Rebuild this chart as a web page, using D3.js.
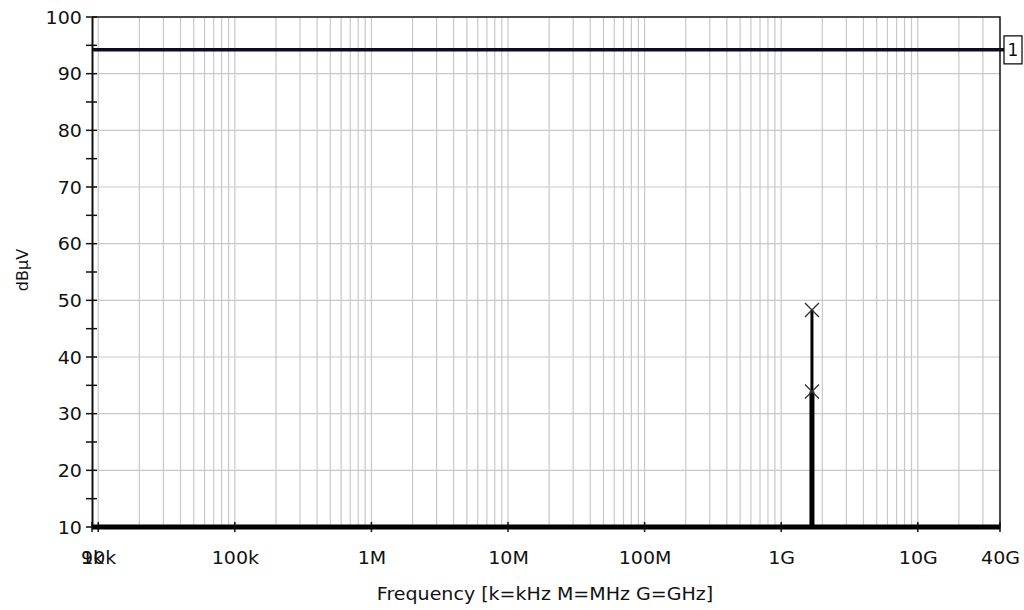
<!DOCTYPE html>
<html>
<head>
<meta charset="utf-8">
<script src="https://cdn.jsdelivr.net/npm/d3@7"></script>
<style>
  html, body { margin: 0; padding: 0; background: #fff; }
  svg { display: block; }
  text { font-family: "DejaVu Sans", sans-serif; fill: #111; }
</style>
</head>
<body>
<div id="chart"></div>
<script>
// ---- data ----
const xTickValues = [9e3, 1e4, 1e5, 1e6, 1e7, 1e8, 1e9, 1e10, 4e10];
const xTickLabels = ['9k', '10k', '100k', '1M', '10M', '100M', '1G', '10G', '40G'];
const yTickValues = [10, 20, 30, 40, 50, 60, 70, 80, 90, 100];
const yMinorTicks = [15, 25, 35, 45, 55, 65, 75, 85, 95];

// limit line "1"
const limitLevel = 94.2;
const limitLabel = '1';

// emission traces (peak and average), flat at floor except for one spike
const spikeFreq = 1.68e9;
const peakTrace = [[9e3, 10], [spikeFreq, 10], [spikeFreq, 48.3], [spikeFreq, 10], [4e10, 10]];
const avgTrace  = [[9e3, 10], [spikeFreq, 10], [spikeFreq, 33.9], [spikeFreq, 10], [4e10, 10]];
const markers = [[spikeFreq, 48.3], [spikeFreq, 33.9]];

// ---- layout ----
const width = 1024, height = 610;
const plot = { left: 92, right: 1000, top: 17, bottom: 527 };
const stretch = 'scale(1.12,1)'; // reference font is wider than DejaVu

const svg = d3.select('#chart').append('svg')
  .attr('width', width)
  .attr('height', height);

const x = d3.scaleLog().domain([9e3, 4e10]).range([plot.left, plot.right]);
const y = d3.scaleLinear().domain([10, 100]).range([plot.bottom, plot.top]);

// vertical grid: 1..9 of every decade
const gridX = x.ticks().filter(v => v > 9e3 && v < 4e10);
svg.append('g')
  .selectAll('line')
  .data(gridX)
  .join('line')
  .attr('x1', d => x(d)).attr('x2', d => x(d))
  .attr('y1', plot.top).attr('y2', plot.bottom)
  .attr('stroke', '#c8c8c8')
  .attr('stroke-width', 1.2);

// horizontal grid
svg.append('g')
  .selectAll('line')
  .data(yTickValues.filter(v => v > 10 && v < 100))
  .join('line')
  .attr('x1', plot.left).attr('x2', plot.right)
  .attr('y1', d => y(d)).attr('y2', d => y(d))
  .attr('stroke', '#c8c8c8')
  .attr('stroke-width', 1.2);

// plot frame (top + right)
svg.append('path')
  .attr('d', `M${plot.left},${plot.top}H${plot.right}V${plot.bottom}`)
  .attr('fill', 'none')
  .attr('stroke', '#111')
  .attr('stroke-width', 1.5);

// limit line
svg.append('line')
  .attr('x1', plot.left).attr('x2', plot.right + 4)
  .attr('y1', y(limitLevel)).attr('y2', y(limitLevel))
  .attr('stroke', '#0d0d1f')
  .attr('stroke-width', 3.5);

svg.append('rect')
  .attr('x', plot.right + 4).attr('y', y(limitLevel) - 14)
  .attr('width', 18).attr('height', 28)
  .attr('fill', '#fff')
  .attr('stroke', '#111')
  .attr('stroke-width', 1.3);

svg.append('text')
  .attr('x', plot.right + 13).attr('y', y(limitLevel) + 6)
  .attr('text-anchor', 'middle')
  .style('font-size', '17px')
  .text(limitLabel);

// traces
const line = d3.line().x(d => x(d[0])).y(d => y(d[1]));

svg.append('path')
  .datum(peakTrace)
  .attr('d', line)
  .attr('fill', 'none')
  .attr('stroke', '#000')
  .attr('stroke-width', 3);

svg.append('path')
  .datum(avgTrace)
  .attr('d', line)
  .attr('fill', 'none')
  .attr('stroke', '#000')
  .attr('stroke-width', 5);

// X markers
svg.append('g')
  .selectAll('path')
  .data(markers)
  .join('path')
  .attr('d', d => {
    const cx = x(d[0]), cy = y(d[1]), r = 7;
    return `M${cx - r},${cy - r}L${cx + r},${cy + r}M${cx - r},${cy + r}L${cx + r},${cy - r}`;
  })
  .attr('stroke', '#333')
  .attr('stroke-width', 1.3)
  .attr('fill', 'none');

// y axis
const yAxisG = svg.append('g').attr('transform', `translate(${plot.left},0)`);
yAxisG.call(d3.axisLeft(y).tickValues(yTickValues).tickSize(0).tickPadding(9).tickFormat(d3.format('d')));
yAxisG.select('.domain').attr('stroke', '#111').attr('stroke-width', 2);
yAxisG.selectAll('.tick text')
  .style('font-size', '17px')
  .attr('fill', '#111')
  .attr('dy', '0.36em')
  .attr('transform', stretch);

yAxisG.selectAll('.ytick')
  .data(yTickValues.concat(yMinorTicks))
  .join('line')
  .attr('class', 'ytick')
  .attr('x1', -6).attr('x2', 5)
  .attr('y1', d => y(d)).attr('y2', d => y(d))
  .attr('stroke', '#111')
  .attr('stroke-width', 1.5);

// x axis
const xAxisG = svg.append('g').attr('transform', `translate(0,${plot.bottom})`);
xAxisG.call(d3.axisBottom(x).tickValues(xTickValues).tickSize(0).tickPadding(25)
  .tickFormat((d, i) => xTickLabels[i]));
xAxisG.select('.domain').attr('stroke', '#000').attr('stroke-width', 3);
xAxisG.selectAll('.tick text')
  .style('font-size', '17px')
  .attr('fill', '#111')
  .attr('transform', stretch);

xAxisG.selectAll('.xtick')
  .data(xTickValues)
  .join('line')
  .attr('class', 'xtick')
  .attr('x1', d => x(d)).attr('x2', d => x(d))
  .attr('y1', -5).attr('y2', 5)
  .attr('stroke', '#111')
  .attr('stroke-width', 1.5);

// axis titles
svg.append('g')
  .attr('transform', `translate(${(plot.left + plot.right) / 2 - 1},600)`)
  .append('text')
  .attr('text-anchor', 'middle')
  .attr('transform', stretch)
  .style('font-size', '17px')
  .text('Frequency [k=kHz M=MHz G=GHz]');

svg.append('text')
  .attr('transform', `translate(28,270) rotate(-90)`)
  .attr('text-anchor', 'middle')
  .style('font-size', '16px')
  .text('dBµV');
</script>
</body>
</html>
